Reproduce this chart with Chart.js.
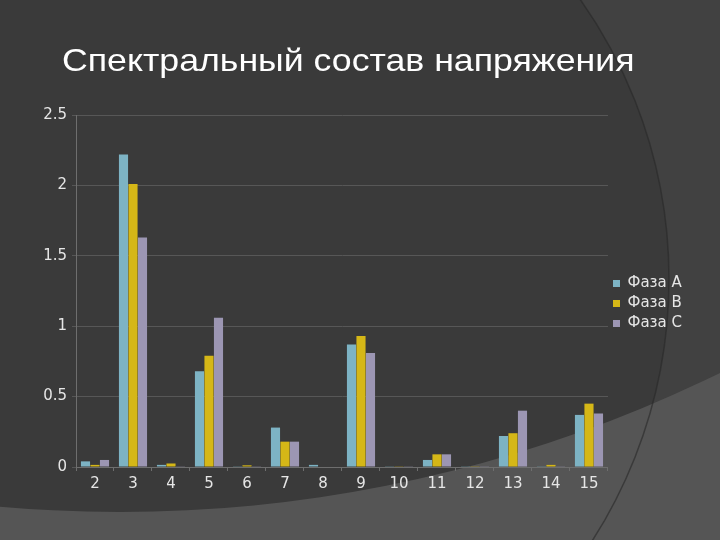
<!DOCTYPE html>
<html>
<head>
<meta charset="utf-8">
<script src="https://cdn.jsdelivr.net/npm/chart.js@4.4.0/dist/chart.umd.min.js"></script>
<style>
  html, body { margin: 0; padding: 0; background: #3a3a3a; }
  #wrap { position: relative; width: 720px; height: 540px; overflow: hidden; }
  #title {
    position: absolute; left: 62px; top: 42px;
    font-family: "Liberation Sans", Arial, sans-serif;
    font-size: 32px; color: #ffffff; white-space: nowrap;
    transform: scaleX(1.115); transform-origin: left top;
  }
  canvas { position: absolute; left: 0; top: 0; }
</style>
</head>
<body>
<div id="wrap">
  <canvas id="chart" width="720" height="540"></canvas>
  <div id="title">Спектральный состав напряжения</div>
</div>
<script>
// harmonic numbers
const harmonics = ['2', '3', '4', '5', '6', '7', '8', '9', '10', '11', '12', '13', '14', '15'];
const phaseA = [0.04, 2.22, 0.015, 0.68, 0.005, 0.28, 0.015, 0.87, 0.005, 0.05, 0.005, 0.22, 0.005, 0.37];
const phaseB = [0.015, 2.01, 0.025, 0.79, 0.012, 0.18, 0, 0.93, 0.005, 0.09, 0.005, 0.24, 0.015, 0.45];
const phaseC = [0.05, 1.63, 0.005, 1.06, 0.005, 0.18, 0, 0.81, 0.005, 0.09, 0.005, 0.40, 0.005, 0.38];
const seriesNames = ['Фаза A', 'Фаза B', 'Фаза C'];
const seriesColors = ['#7db3c4', '#d5b717', '#9c96b3'];

const font = "'DejaVu Sans', sans-serif";

// slide-style background: dark base, big circle on the right, light region at the bottom
const slideBackground = {
    id: 'slideBackground',
    beforeDraw(chart) {
        const ctx = chart.ctx;
        const w = chart.width, h = chart.height;
        ctx.save();
        ctx.fillStyle = '#3a3a3a';
        ctx.fillRect(0, 0, w, h);

        // region outside the right circle
        ctx.fillStyle = '#414141';
        ctx.beginPath();
        ctx.rect(0, 0, w, h);
        ctx.arc(185, 279, 484, 0, Math.PI * 2, true);
        ctx.fill('evenodd');

        // lighter region below a huge circle
        ctx.fillStyle = '#555555';
        ctx.beginPath();
        ctx.rect(0, 0, w, h);
        ctx.arc(120, -852, 1364, 0, Math.PI * 2, true);
        ctx.fill('evenodd');

        // outline of the right circle
        ctx.strokeStyle = 'rgba(40,40,40,0.6)';
        ctx.lineWidth = 1.5;
        ctx.beginPath();
        ctx.arc(185, 279, 484, 0, Math.PI * 2);
        ctx.stroke();
        ctx.restore();
    }
};

new Chart(document.getElementById('chart'), {
    type: 'bar',
    data: {
        labels: harmonics,
        datasets: [phaseA, phaseB, phaseC].map(function(values, i) {
            return {
                label: seriesNames[i],
                data: values,
                backgroundColor: seriesColors[i],
                borderWidth: 0
            };
        })
    },
    options: {
        responsive: false,
        animation: false,
        layout: { padding: { top: 115, bottom: 48, left: 0, right: 28 } },
        datasets: {
            bar: { categoryPercentage: 0.75, barPercentage: 0.96 }
        },
        plugins: {
            legend: {
                position: 'right',
                labels: {
                    boxWidth: 7,
                    boxHeight: 7,
                    padding: 5,
                    color: '#e6e6e6',
                    font: { family: font, size: 15 }
                }
            },
            tooltip: { enabled: false }
        },
        scales: {
            x: {
                grid: {
                    display: true,
                    drawOnChartArea: false,
                    tickLength: 4,
                    color: '#6e6e6e'
                },
                border: { color: '#6e6e6e' },
                ticks: {
                    color: '#e6e6e6',
                    font: { family: font, size: 15 },
                    padding: 4,
                    maxRotation: 0
                },
                afterFit(scale) { scale.height = 25; }
            },
            y: {
                min: 0,
                max: 2.5,
                ticks: {
                    stepSize: 0.5,
                    color: '#e6e6e6',
                    font: { family: font, size: 15 },
                    padding: 5,
                    callback: function(v) { return String(v); }
                },
                grid: {
                    color: '#575757',
                    tickLength: 4
                },
                border: { color: '#6e6e6e' },
                afterFit(scale) { scale.width = 76; }
            }
        }
    },
    plugins: [slideBackground]
});
</script>
</body>
</html>
